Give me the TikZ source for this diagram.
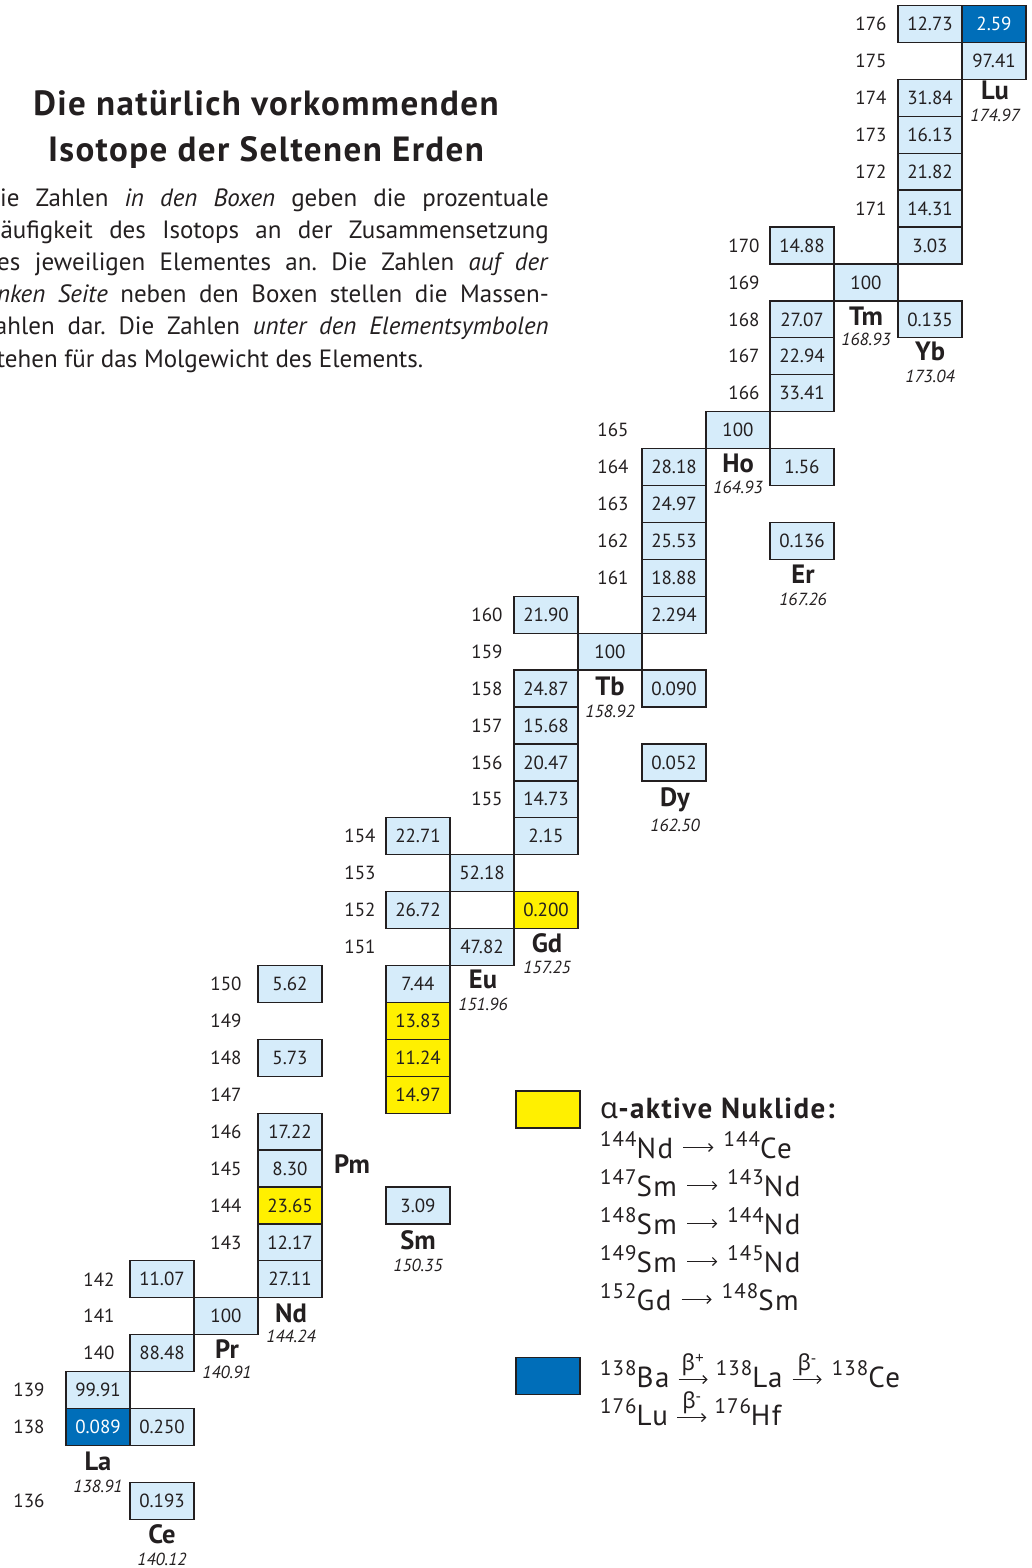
\documentclass[tikz,border=0pt]{standalone}
\usepackage{fontspec}
\setmainfont{PT Sans}
\newfontfamily\headfont{PT Sans}[LetterSpace=4]
\newfontfamily\legendfont{PT Sans}[LetterSpace=5]
\newfontfamily\greekfont{Noto Sans}
\usetikzlibrary{arrows.meta,calc}

\definecolor{ink}{RGB}{35,31,32}
\definecolor{isoblue}{RGB}{214,236,250}
\definecolor{decayblue}{RGB}{0,110,185}
\definecolor{alphayellow}{RGB}{255,240,0}

% font size in points with matching leading
\newcommand\fsz[1]{\fontsize{#1}{#1}\selectfont}
% nuclide with raised mass number
\newcommand\nuclide[2]{\raisebox{12pt}{\fsz{21}#1}#2}

\tikzset{
  isobox/.style={draw=ink, line width=1.3pt, fill=isoblue, text=ink,
    minimum width=64pt, minimum height=36.92pt, inner sep=0pt, font=\fsz{19}},
  darkbox/.style={isobox, fill=decayblue, text=white},
  yellowbox/.style={isobox, fill=alphayellow},
  masslabel/.style={text=ink, inner sep=0pt, font=\fsz{19}},
  elemsym/.style={text=ink, inner sep=0pt, anchor=base, font=\bfseries\fsz{26.5}},
  elemwt/.style={text=ink, inner sep=0pt, anchor=base, font=\itshape\fsz{17.5}},
  headline/.style={text=ink, inner sep=0pt, anchor=base, font=\headfont\bfseries\fsz{35}},
  introline/.style={text=ink, inner sep=0pt, anchor=base east, font=\fsz{25}},
  nuc/.style={text=ink, inner sep=0pt, anchor=base west, text height=21pt,
    text depth=0pt, font=\legendfont\fsz{29}},
  decay/.style={draw=ink, line width=1.2pt, -{Straight Barb[length=4pt,width=8pt]}},
  betalabel/.style={text=ink, inner sep=0pt, anchor=south, font=\greekfont\fsz{22}},
}

\begin{document}
\begin{tikzpicture}[x=1pt, y=-1pt]
\useasboundingbox (0,0) rectangle (1032,1568);
\clip (0,0) rectangle (1032,1568);

% ---------- heading and explanation ----------
\node[headline] (title1) at (266,116) {Die natürlich vorkommenden};
\node[headline] (title2) at (266,161) {Isotope der Seltenen Erden};

% justified lines of the explanation, right edge at x = 549
\node[introline] (intro1) at (549,206)
  {\makebox[565pt][s]{Die Zahlen \textit{in den Boxen} geben die prozentuale}};
\node[introline] (intro2) at (549,238.2)
  {\makebox[565pt][s]{Häufigkeit des Isotops an der Zusammensetzung}};
\node[introline] (intro3) at (549,270.4)
  {\makebox[565pt][s]{des jeweiligen Elementes an.\ Die Zahlen \textit{auf der}}};
\node[introline] (intro4) at (549,302.6)
  {\makebox[565pt][s]{\textit{linken Seite} neben den Boxen stellen die Massen-}};
\node[introline] (intro5) at (549,334.8)
  {\makebox[565pt][s]{zahlen dar.\ Die Zahlen \textit{unter den Elementsymbolen}}};
\node[introline, anchor=base west] (intro6) at (-14,367)
  {stehen für das Molgewicht des Elements.};

% ---------- isotope boxes: column / mass number / abundance / style ----------
\foreach \c/\m/\v/\s in {
  0/139/99.91/isobox, 0/138/0.089/darkbox,
  1/142/11.07/isobox, 1/140/88.48/isobox, 1/138/0.250/isobox, 1/136/0.193/isobox,
  2/141/100/isobox,
  3/150/5.62/isobox, 3/148/5.73/isobox, 3/146/17.22/isobox, 3/145/8.30/isobox,
  3/144/23.65/yellowbox, 3/143/12.17/isobox, 3/142/27.11/isobox,
  5/154/22.71/isobox, 5/152/26.72/isobox, 5/150/7.44/isobox, 5/149/13.83/yellowbox,
  5/148/11.24/yellowbox, 5/147/14.97/yellowbox, 5/144/3.09/isobox,
  6/153/52.18/isobox, 6/151/47.82/isobox,
  7/160/21.90/isobox, 7/158/24.87/isobox, 7/157/15.68/isobox, 7/156/20.47/isobox,
  7/155/14.73/isobox, 7/154/2.15/isobox, 7/152/0.200/yellowbox,
  8/159/100/isobox,
  9/164/28.18/isobox, 9/163/24.97/isobox, 9/162/25.53/isobox, 9/161/18.88/isobox,
  9/160/2.294/isobox, 9/158/0.090/isobox, 9/156/0.052/isobox,
  10/165/100/isobox,
  11/170/14.88/isobox, 11/168/27.07/isobox, 11/167/22.94/isobox, 11/166/33.41/isobox,
  11/164/1.56/isobox, 11/162/0.136/isobox,
  12/169/100/isobox,
  13/176/12.73/isobox, 13/174/31.84/isobox, 13/173/16.13/isobox, 13/172/21.82/isobox,
  13/171/14.31/isobox, 13/170/3.03/isobox, 13/168/0.135/isobox,
  14/176/2.59/darkbox, 14/175/97.41/isobox}
{
  \node[\s] (b\c-\m) at ({98+64*\c},{24+(176-\m)*36.92}) {\v};
}

% ---------- mass numbers ----------
\foreach \m/\x in {176/871,175/871,174/871,173/871,172/871,171/871,
  170/744,169/744,168/744,167/744,166/744,
  165/613,164/613,163/613,162/613,161/613,
  160/487,159/487,158/487,157/487,156/487,155/487,
  154/360,153/360,152/360,151/360,
  150/226,149/226,148/226,147/226,146/226,145/226,144/226,143/226,
  142/99,141/99,140/99,
  139/29,138/29,136/29}
{
  \node[masslabel] (m\m) at (\x,{24+(176-\m)*36.92}) {\m};
}

% ---------- element symbols and atomic weights ----------
\foreach \e/\x/\ys/\yw/\w in {
  La/98/1470/1492/138.91, Ce/162/1543/1565/140.12, Pr/227/1358/1378/140.91,
  Nd/291/1322/1342/144.24, Sm/418/1249/1271/150.35, Eu/483/988/1010/151.96,
  Gd/547/952/973/157.25, Tb/610/695/717/158.92, Dy/675/806/831/162.50,
  Ho/738/472/493/164.93, Er/803/583/605/167.26, Tm/866/325/345/168.93,
  Yb/930/360/382/173.04, Lu/995/100/122/174.97}
{
  \node[elemsym] (s\e) at (\x,\ys) {\e};
  \node[elemwt] (w\e) at (\x,\yw) {\w};
}
\node[elemsym] (sPm) at (352,1173) {Pm};

% ---------- key: alpha emitters ----------
\node[yellowbox] (keyA) at (548,1109.5) {};
\node[text=ink, inner sep=0pt, anchor=base west, font=\legendfont\bfseries\fsz{29}] (keyAt)
  at (600,1118) {{\greekfont\bfseries α}-aktive Nuklide:};

\foreach \i/\yb/\l/\ls/\r/\rs in {
  1/1158/144/Nd/144/Ce, 2/1196/147/Sm/143/Nd, 3/1234/148/Sm/144/Nd,
  4/1272/149/Sm/145/Nd, 5/1310/152/Gd/148/Sm}
{
  \node[nuc] (a\i l) at (600,\yb) {\nuclide{\l}{\ls}};
  \node[nuc] (a\i r) at ($(a\i l.base east)+(50,0)$) {\nuclide{\r}{\rs}};
  \draw[decay] ([xshift=10pt]a\i l.east) -- ([xshift=-10pt]a\i r.west);
}

% ---------- key: beta emitters ----------
\node[darkbox] (keyB) at (548,1376) {};

\node[nuc] (ba) at (600,1387) {\nuclide{138}{Ba}};
\node[nuc] (la) at ($(ba.base east)+(46,0)$) {\nuclide{138}{La}};
\node[nuc] (ce) at ($(la.base east)+(49,0)$) {\nuclide{138}{Ce}};
\draw[decay] ([xshift=9pt,yshift=-3pt]ba.east) --
  node[betalabel, yshift=3pt] (bp) {β\textsuperscript{+}} ([xshift=-8pt,yshift=-3pt]la.west);
\draw[decay] ([xshift=10pt,yshift=-3pt]la.east) --
  node[betalabel, yshift=3pt] (bm1) {β\textsuperscript{-}} ([xshift=-10pt,yshift=-3pt]ce.west);

\node[nuc] (lu) at (600,1425) {\nuclide{176}{Lu}};
\node[nuc] (hf) at ($(lu.base east)+(46,0)$) {\nuclide{176}{Hf}};
\draw[decay] ([xshift=9pt,yshift=-3pt]lu.east) --
  node[betalabel, yshift=3pt] (bm2) {β\textsuperscript{-}} ([xshift=-8pt,yshift=-3pt]hf.west);
\end{tikzpicture}
\end{document}
